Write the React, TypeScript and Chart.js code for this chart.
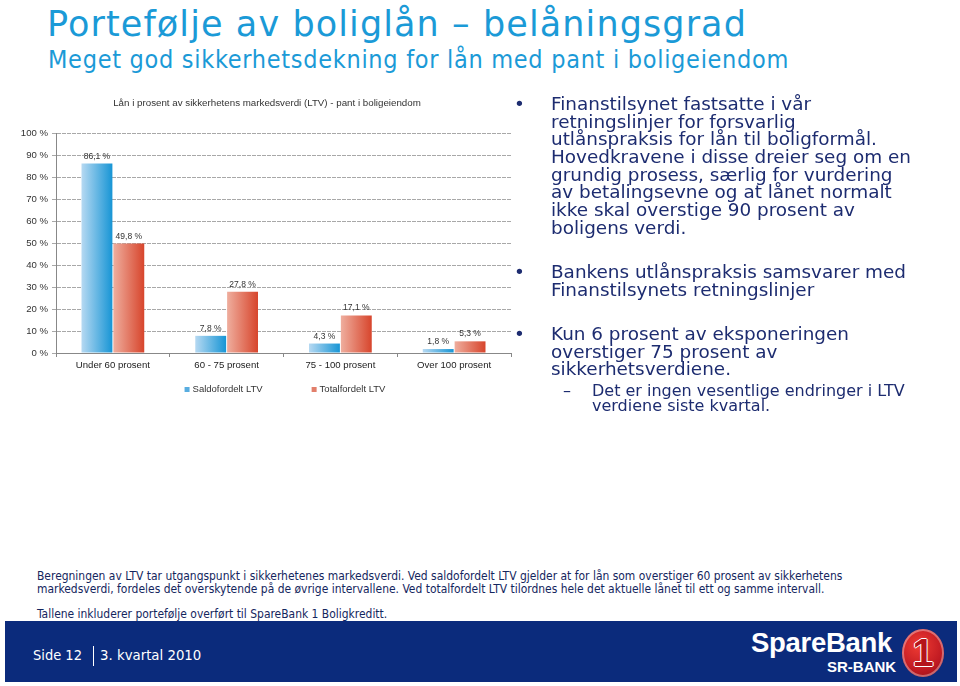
import React, { useEffect, useRef } from "react";
import { Chart, registerables } from "chart.js";

Chart.register(...registerables);

// ---------- data ----------
const categories = ["Under 60 prosent", "60 - 75 prosent", "75 - 100 prosent", "Over 100 prosent"];
const saldofordeltLTV = [86.1, 7.8, 4.3, 1.8];
const totalfordeltLTV = [49.8, 27.8, 17.1, 5.3];
const seriesLabels = ["Saldofordelt LTV", "Totalfordelt LTV"];
const yTickValues = [0, 10, 20, 30, 40, 50, 60, 70, 80, 90, 100];
const chartTitle = "Lån i prosent av sikkerhetens markedsverdi (LTV) - pant i boligeiendom";

// ---------- styles ----------
const CHART_FONT = "'Liberation Sans', Arial, Helvetica, sans-serif";
const GRADIENTS = [
  ["#b6d9f2", "#1795d5"],
  ["#efae9e", "#d7452c"],
];
const LEGEND_COLORS = ["#58ade0", "#e27f6b"];
const NAVY = "#1d2c70";

const fmt = (v: number) => v.toFixed(1).replace(".", ",") + " %";

const barGradientPlugin = {
  id: "barGradient",
  afterDatasetsUpdate(chart: any) {
    const ctx = chart.ctx;
    chart.data.datasets.forEach((_ds: any, di: number) => {
      const meta = chart.getDatasetMeta(di);
      const [c0, c1] = GRADIENTS[di];
      meta.data.forEach((el: any) => {
        const w = el.width;
        const x = el.x;
        const g = ctx.createLinearGradient(x - w / 2, 0, x + w / 2, 0);
        g.addColorStop(0, c0);
        g.addColorStop(1, c1);
        if (el.options && !Object.isFrozen(el.options)) el.options.backgroundColor = g;
      });
    });
  },
};

const valueLabelPlugin = {
  id: "valueLabels",
  afterDatasetsDraw(chart: any) {
    const ctx = chart.ctx;
    ctx.save();
    ctx.font = `8.5px ${CHART_FONT}`;
    ctx.fillStyle = "#333";
    ctx.textAlign = "center";
    ctx.textBaseline = "bottom";
    chart.data.datasets.forEach((ds: any, di: number) => {
      chart.getDatasetMeta(di).data.forEach((el: any, i: number) => {
        ctx.fillText(fmt(ds.data[i]), el.x, el.y - 3);
      });
    });
    ctx.restore();
  },
};

const legendPlugin = {
  id: "customLegend",
  afterDraw(chart: any) {
    const { ctx, chartArea } = chart;
    ctx.save();
    ctx.font = `9.5px ${CHART_FONT}`;
    const box = 5;
    const gapText = 3;
    const gapItem = 49;
    const labels = chart.data.datasets.map((d: any) => d.label as string);
    const widths = labels.map((t: string) => box + gapText + ctx.measureText(t).width);
    const total = widths.reduce((a: number, b: number) => a + b, 0) + gapItem * (widths.length - 1);
    let x = (chartArea.left + chartArea.right) / 2 + 1.5 - total / 2;
    const y = chartArea.bottom + 36.5;
    ctx.textBaseline = "middle";
    ctx.textAlign = "left";
    labels.forEach((t: string, i: number) => {
      ctx.fillStyle = LEGEND_COLORS[i];
      ctx.fillRect(x, y - box / 2, box, box);
      ctx.fillStyle = "#333";
      ctx.fillText(t, x + box + gapText, y);
      x += widths[i] + gapItem;
    });
    ctx.restore();
  },
};

function LTVChart() {
  const ref = useRef<HTMLCanvasElement>(null);
  useEffect(() => {
    if (!ref.current) return;
    const chart = new Chart(ref.current, {
      type: "bar",
      data: {
        labels: categories,
        datasets: [
          {
            label: seriesLabels[0],
            data: saldofordeltLTV,
            backgroundColor: () => LEGEND_COLORS[0],
            categoryPercentage: 0.56,
            barPercentage: 0.97,
          },
          {
            label: seriesLabels[1],
            data: totalfordeltLTV,
            backgroundColor: () => LEGEND_COLORS[1],
            categoryPercentage: 0.56,
            barPercentage: 0.97,
          },
        ],
      },
      options: {
        animation: false,
        responsive: false,
        events: [],
        layout: { padding: 0 },
        plugins: {
          legend: { display: false },
          tooltip: { enabled: false },
          title: {
            display: true,
            text: chartTitle,
            color: "#333",
            font: { family: CHART_FONT, size: 9.75, weight: "normal" },
            padding: { top: 7, bottom: 24.3 },
          },
        },
        scales: {
          x: {
            grid: { drawOnChartArea: false, drawTicks: true, tickLength: 4, color: "#888" },
            border: { color: "#888" },
            ticks: { color: "#222", font: { family: CHART_FONT, size: 9.6 }, padding: 3 },
            afterFit: (s: any) => {
              s.height = 50;
            },
          },
          y: {
            min: 0,
            max: 100,
            afterBuildTicks: (s: any) => {
              s.ticks = yTickValues.map((v) => ({ value: v }));
            },
            grid: { color: "#a8a8a8", tickLength: 4 },
            border: { color: "#888", dash: [4, 1] },
            ticks: {
              color: "#333",
              font: { family: CHART_FONT, size: 9.6 },
              padding: 4,
              callback: (v: any) => `${v} %`,
            },
            afterFit: (s: any) => {
              s.width = 56;
            },
          },
          yRight: {
            position: "right",
            display: true,
            grid: { display: false },
            border: { display: false },
            ticks: { display: false },
            afterFit: (s: any) => {
              s.width = 23;
            },
          },
        },
      } as any,
      plugins: [barGradientPlugin, valueLabelPlugin, legendPlugin],
    });
    return () => chart.destroy();
  }, []);
  return (
    <canvas
      ref={ref}
      width={534}
      height={313}
      style={{ position: "absolute", left: 0, top: 90, width: 534, height: 313 }}
    />
  );
}

const bulletP1 = [
  "Finanstilsynet fastsatte i vår",
  "retningslinjer for forsvarlig",
  "utlånspraksis for lån til boligformål.",
  "Hovedkravene i disse dreier seg om en",
  "grundig prosess, særlig for vurdering",
  "av betalingsevne og at lånet normalt",
  "ikke skal overstige 90 prosent av",
  "boligens verdi.",
];
const bulletP2 = ["Bankens utlånspraksis samsvarer med", "Finanstilsynets retningslinjer"];
const bulletP3 = ["Kun 6 prosent av eksponeringen", "overstiger 75 prosent av", "sikkerhetsverdiene."];
const subBullet = ["Det er ingen vesentlige endringer i LTV", "verdiene siste kvartal."];
const footnotes = [
  "Beregningen av LTV tar utgangspunkt i sikkerhetenes markedsverdi. Ved saldofordelt LTV gjelder at for lån som overstiger 60 prosent av sikkerhetens",
  "markedsverdi, fordeles det overskytende på de øvrige intervallene. Ved totalfordelt LTV tilordnes hele det aktuelle lånet til ett og samme intervall.",
];
const footnote2 = "Tallene inkluderer portefølje overført til SpareBank 1 Boligkreditt.";

const SANS = "'DejaVu Sans', Verdana, sans-serif";
const COND = "'DejaVu Sans Condensed', 'DejaVu Sans', sans-serif";

function Bullet({ top, lines }: { top: number; lines: string[] }) {
  return (
    <>
      <div
        style={{
          position: "absolute",
          left: 514,
          top,
          fontFamily: SANS,
          fontSize: 18.4,
          lineHeight: "17.7px",
          color: NAVY,
        }}
      >
        •
      </div>
      <div
        style={{
          position: "absolute",
          left: 551,
          top,
          fontFamily: SANS,
          fontSize: 18.4,
          lineHeight: "17.7px",
          color: NAVY,
          whiteSpace: "nowrap",
        }}
      >
        {lines.map((l, i) => (
          <div key={i}>{l}</div>
        ))}
      </div>
    </>
  );
}

export default function App() {
  return (
    <div
      style={{
        position: "absolute",
        left: 0,
        top: 0,
        width: 960,
        height: 686,
        background: "#fff",
        overflow: "hidden",
      }}
    >
      <div
        style={{
          position: "absolute",
          left: 47,
          top: 7,
          fontFamily: SANS,
          fontSize: 35,
          lineHeight: "35px",
          letterSpacing: 1.1,
          color: "#1b9ad7",
          whiteSpace: "nowrap",
        }}
      >
        Portefølje av boliglån – belåningsgrad
      </div>
      <div
        style={{
          position: "absolute",
          left: 48,
          top: 47,
          fontFamily: COND,
          fontSize: 25,
          lineHeight: "25px",
          letterSpacing: 0.7,
          color: "#1b9ad7",
          whiteSpace: "nowrap",
        }}
      >
        Meget god sikkerhetsdekning for lån med pant i boligeiendom
      </div>

      <LTVChart />

      <Bullet top={94.8} lines={bulletP1} />
      <Bullet top={262.8} lines={bulletP2} />
      <Bullet top={324.8} lines={bulletP3} />
      <div
        style={{
          position: "absolute",
          left: 563,
          top: 383,
          fontFamily: SANS,
          fontSize: 16,
          lineHeight: "15px",
          color: NAVY,
        }}
      >
        –
      </div>
      <div
        style={{
          position: "absolute",
          left: 592,
          top: 383,
          fontFamily: SANS,
          fontSize: 16,
          lineHeight: "15px",
          color: NAVY,
          whiteSpace: "nowrap",
        }}
      >
        {subBullet.map((l, i) => (
          <div key={i}>{l}</div>
        ))}
      </div>

      <div
        style={{
          position: "absolute",
          left: 37,
          top: 569.5,
          fontFamily: COND,
          fontSize: 11.95,
          lineHeight: "13px",
          color: "#14265e",
          whiteSpace: "nowrap",
        }}
      >
        {footnotes.map((l, i) => (
          <div key={i}>{l}</div>
        ))}
      </div>
      <div
        style={{
          position: "absolute",
          left: 37,
          top: 607.5,
          fontFamily: COND,
          fontSize: 11.95,
          lineHeight: "13px",
          color: "#14265e",
          whiteSpace: "nowrap",
        }}
      >
        {footnote2}
      </div>

      {/* footer */}
      <div
        style={{
          position: "absolute",
          left: 5,
          top: 621,
          width: 952,
          height: 61,
          background: "#0b2b7c",
        }}
      >
        <div
          style={{
            position: "absolute",
            left: 28,
            top: 26,
            fontFamily: COND,
            fontSize: 14.5,
            lineHeight: "16px",
            color: "#fff",
            whiteSpace: "nowrap",
          }}
        >
          Side 12
        </div>
        <div style={{ position: "absolute", left: 88, top: 25, width: 1, height: 20, background: "#fff" }} />
        <div
          style={{
            position: "absolute",
            left: 95,
            top: 26,
            fontFamily: COND,
            fontSize: 14.8,
            lineHeight: "16px",
            color: "#fff",
            whiteSpace: "nowrap",
          }}
        >
          3. kvartal 2010
        </div>
        <div
          style={{
            position: "absolute",
            left: 746,
            top: 7,
            fontFamily: "'Liberation Sans', Arial, sans-serif",
            fontWeight: "bold",
            fontSize: 27.5,
            lineHeight: "30px",
            letterSpacing: -0.3,
            color: "#fff",
            whiteSpace: "nowrap",
          }}
        >
          SpareBank
        </div>
        <div
          style={{
            position: "absolute",
            left: 822,
            top: 38,
            fontFamily: "'Liberation Sans', Arial, sans-serif",
            fontWeight: "bold",
            fontSize: 15,
            lineHeight: "16px",
            color: "#fff",
            whiteSpace: "nowrap",
          }}
        >
          SR-BANK
        </div>
        <div
          style={{
            position: "absolute",
            left: 897,
            top: 8,
            width: 42,
            height: 48,
            borderRadius: "50%",
            background: "radial-gradient(circle at 40% 35%, #ef3b33, #c01a22 60%, #8e0d14)",
            boxShadow: "inset 0 0 0 2px rgba(255,255,255,0.35)",
          }}
        >
          <div
            style={{
              position: "absolute",
              left: 0,
              top: 3,
              width: 42,
              textAlign: "center",
              fontFamily: "'Liberation Sans', Arial, sans-serif",
              fontWeight: "bold",
              fontSize: 38,
              lineHeight: "42px",
              color: "#b5141b",
              textShadow: "1px 0 #fff, -1px 0 #fff, 0 1px #fff, 0 -1px #fff",
            }}
          >
            1
          </div>
        </div>
      </div>
    </div>
  );
}
